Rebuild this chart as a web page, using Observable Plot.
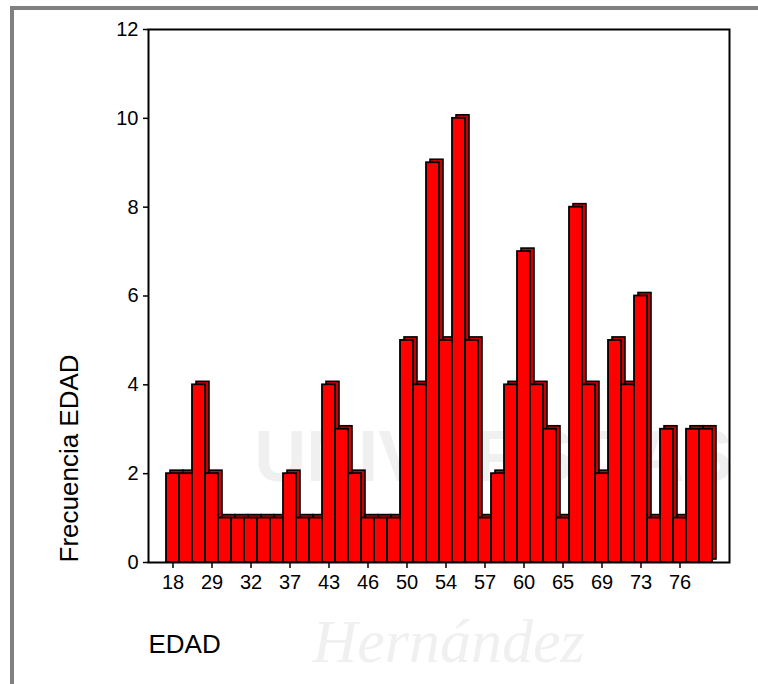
<!DOCTYPE html>
<html>
<head>
<meta charset="utf-8">
<script src="https://cdn.jsdelivr.net/npm/d3@7"></script>
<script src="https://cdn.jsdelivr.net/npm/@observablehq/plot@0.6"></script>
<style>
  html, body { margin: 0; padding: 0; background: #ffffff; width: 758px; height: 684px; overflow: hidden; }
  #border { position: absolute; left: 10px; top: 6px; width: 800px; height: 720px;
            border-left: 4px solid #808080; border-top: 4px solid #808080; }
  #chart { position: absolute; left: 0; top: 0; }
</style>
</head>
<body>
<div id="border"></div>
<div id="chart"></div>
<script>
const ages = ["18","25","28","29","30","31","32","34","35","37","39","41","43","44","45","46","47","48","50","51","53","54","55","56","57","58","59","60","62","63","65","66","67","69","70","72","73","74","75","76","77","78"];
const counts = [2,2,4,2,1,1,1,1,1,2,1,1,4,3,2,1,1,1,5,4,9,5,10,5,1,2,4,7,4,3,1,8,4,2,5,4,6,1,3,1,3,3];
const xTickLabels = ["18","29","32","37","43","46","50","54","57","60","65","69","73","76"];
const yTicks = [0, 2, 4, 6, 8, 10, 12];
const xTitle = "EDAD";
const yTitle = "Frecuencia EDAD";

const rows = ages.map((a, i) => ({age: a, n: counts[i]}));

const chart = Plot.plot({
  width: 758,
  height: 684,
  marginLeft: 148,
  marginRight: 29,
  marginTop: 29,
  marginBottom: 122,
  style: {fontFamily: "Arial, 'Liberation Sans', sans-serif", fontSize: "20px", background: "transparent", overflow: "visible", color: "#000"},
  x: {type: "band", domain: ages, paddingInner: 0, paddingOuter: 1.18},
  y: {domain: [0, 12]},
  marks: [
    Plot.text(["UNIVERSITAS"], {frameAnchor: "top-left", dx: 345, dy: 400, fontSize: 72, fontWeight: "bold", fill: "#f0f0f0", textAnchor: "middle"}),
    Plot.text(["Hernández"], {frameAnchor: "bottom-left", dx: 300, dy: 80, fontSize: 62, fontStyle: "italic", fontFamily: "'Liberation Serif', 'DejaVu Serif', serif", fill: "#f0f0f0", textAnchor: "middle", lineAnchor: "middle"}),
    Plot.barY(rows, {x: "age", y: "n", fill: "#c80000", stroke: "#000", strokeWidth: 1.6, dx: 4, dy: -3, inset: 0}),
    Plot.barY(rows, {x: "age", y: "n", fill: "#ff0000", stroke: "#000", strokeWidth: 1.8, inset: 0}),
    Plot.frame({stroke: "#000", strokeWidth: 2}),
    Plot.axisX({ticks: xTickLabels, tickSize: 6, tickPadding: 6, label: null, fontSize: 20, strokeWidth: 1.5}),
    Plot.axisY({ticks: yTicks, tickSize: 5, tickPadding: 5, label: null, fontSize: 20, strokeWidth: 1.5}),
    Plot.text([xTitle], {frameAnchor: "bottom-left", dy: 90, textAnchor: "start", fontSize: 26}),
    Plot.text([yTitle], {frameAnchor: "bottom-left", dx: -71, rotate: -90, textAnchor: "start", fontSize: 26})
  ]
});
document.getElementById("chart").appendChild(chart);
</script>
</body>
</html>
